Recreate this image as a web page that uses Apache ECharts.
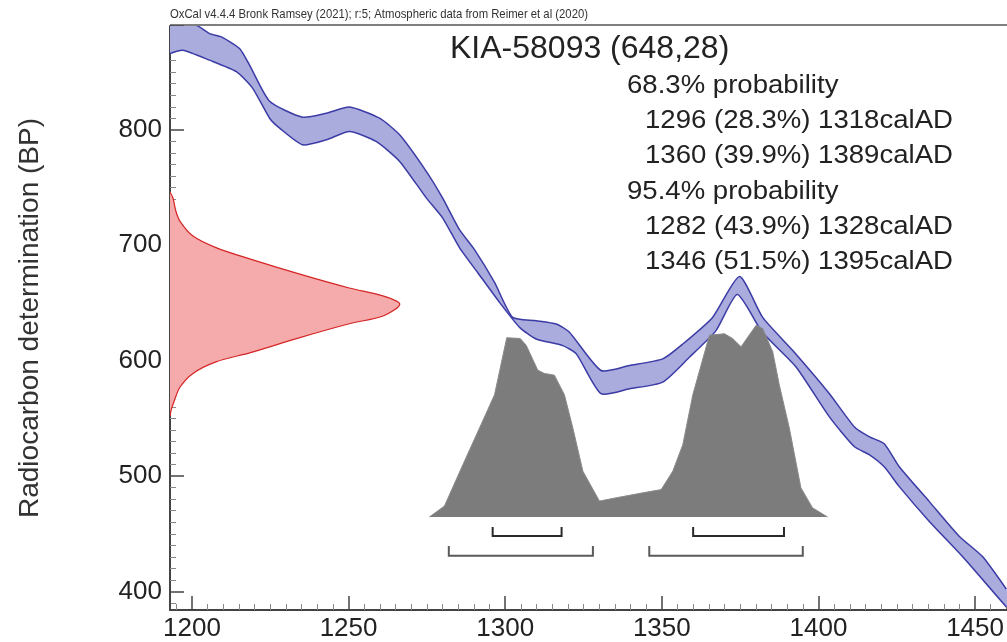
<!DOCTYPE html>
<html>
<head>
<meta charset="utf-8">
<script src="https://cdn.jsdelivr.net/npm/echarts@6/dist/echarts.min.js"></script>
<style>
html, body { margin: 0; padding: 0; background: #fff; }
#main { width: 1007px; height: 642px; }
</style>
</head>
<body>
<div id="main"></div>
<script>
var headerText = 'OxCal v4.4.4 Bronk Ramsey (2021); r:5; Atmospheric data from Reimer et al (2020)';
var sampleName = 'KIA-58093';
var sampleAge = 648;
var sampleErr = 28;

// calibration curve band (calAD, BP)
var curveUpperYears = [1193, 1201.4, 1205.6, 1209.4, 1215.2, 1218.4, 1224.8, 1235.3, 1242.9, 1250.3, 1259.9, 1266.3, 1274.8, 1280, 1285.4, 1290.2, 1296.6, 1302.4, 1309.9, 1316.3, 1320.5, 1330.6, 1339.7, 1350.3, 1356.7, 1366.2, 1374.8, 1382.2, 1391.8, 1403.5, 1411.5, 1416.3, 1421, 1425.8, 1435.4, 1445, 1452.3, 1460];
var curveUpperBP = [891, 890.6, 883.4, 880.6, 870.5, 856.1, 824.8, 811, 814.4, 819.8, 810.1, 795.7, 764.1, 741.1, 713.5, 696.2, 667.8, 637.5, 634.7, 631.8, 624.7, 591.5, 595.9, 601.6, 614.5, 637.5, 672.9, 637.5, 608.8, 571.4, 542.6, 534, 528, 508.1, 477.9, 447.7, 430.5, 402];
var curveLowerYears = [1193, 1197.1, 1205.6, 1214.2, 1219.4, 1224.8, 1228, 1235.3, 1242.9, 1250.3, 1258.8, 1266.3, 1274.8, 1280, 1285.4, 1291.2, 1298.2, 1304.6, 1309.9, 1318.4, 1322.7, 1330.6, 1339.7, 1350.3, 1358.8, 1367.3, 1374.1, 1382.1, 1392.9, 1403.5, 1411.5, 1416.3, 1421, 1425.8, 1435.4, 1445.9, 1460];
var curveLowerBP = [866.2, 869, 860.4, 850.4, 836, 810.1, 801.5, 787.1, 791.4, 798.6, 790, 772.7, 741.1, 723.8, 698, 676.4, 650.5, 628.9, 618.8, 613.1, 605.9, 571.4, 575.7, 581.5, 603, 626.1, 657.4, 624.6, 594.4, 551.3, 525.4, 518.5, 508.1, 490.9, 460.7, 430.5, 386.5];

// radiocarbon date distribution (BP, relative density)
var dateBP = [746, 741, 730, 721, 708, 698, 688, 675, 663, 656, 649, 639, 632, 620, 607, 599, 589, 577, 566, 558, 552];
var dateProb = [0, 0.013, 0.025, 0.043, 0.10, 0.20, 0.35, 0.565, 0.78, 0.93, 1.0, 0.93, 0.78, 0.565, 0.35, 0.20, 0.10, 0.043, 0.02, 0.006, 0];

// calibrated distribution (calAD, relative probability)
var postYears = [1275.8, 1280.6, 1286.5, 1291.8, 1296.6, 1300.5, 1304.8, 1306.7, 1310.4, 1312.5, 1315.7, 1318.9, 1321.6, 1324.8, 1330.1, 1335.4, 1343.9, 1349.8, 1353.5, 1356.7, 1359.9, 1365.2, 1370, 1372.6, 1375.3, 1380.1, 1382.2, 1385.4, 1387.5, 1390.7, 1394.4, 1398.1, 1402.9];
var postProb = [0, 0.057, 0.273, 0.464, 0.638, 0.935, 0.931, 0.896, 0.766, 0.749, 0.740, 0.638, 0.464, 0.239, 0.083, 0.100, 0.126, 0.143, 0.239, 0.377, 0.638, 0.948, 0.956, 0.931, 0.888, 1.0, 0.983, 0.862, 0.689, 0.464, 0.152, 0.048, 0];

// ranges
var range68Start = [1296, 1360];
var range68End = [1318, 1389];
var range68Pct = [28.3, 39.9];
var range95Start = [1282, 1346];
var range95End = [1328, 1395];
var range95Pct = [43.9, 51.5];

var FONT = 'Liberation Sans, Arial, sans-serif';

var chartDom = document.getElementById('main');
var myChart = echarts.init(chartDom);

function rangeLine(s, e, p) {
    return s + ' (' + p.toFixed(1) + '%) ' + e + 'calAD';
}

function bracketSeries(starts, ends, lineLevel, tickLevel, color) {
    return {
        type: 'custom',
        xAxisIndex: 0,
        yAxisIndex: 1,
        silent: true,
        data: starts.map(function (s, i) { return [s, ends[i]]; }),
        encode: { x: [0, 1] },
        renderItem: function (params, api) {
            var a = api.coord([api.value(0), tickLevel]);
            var b = api.coord([api.value(0), lineLevel]);
            var c = api.coord([api.value(1), lineLevel]);
            var d = api.coord([api.value(1), tickLevel]);
            return {
                type: 'polyline',
                shape: { points: [a, b, c, d] },
                style: { stroke: color, lineWidth: 2, fill: null }
            };
        }
    };
}

var textLines = [
    { t: '68.3% probability', x: 627, y: 86 },
    { t: rangeLine(range68Start[0], range68End[0], range68Pct[0]), x: 645, y: 121 },
    { t: rangeLine(range68Start[1], range68End[1], range68Pct[1]), x: 645, y: 156 },
    { t: '95.4% probability', x: 627, y: 192 },
    { t: rangeLine(range95Start[0], range95End[0], range95Pct[0]), x: 645, y: 227 },
    { t: rangeLine(range95Start[1], range95End[1], range95Pct[1]), x: 645, y: 262 }
];

var graphics = [
    {
        type: 'text', x: 170, y: 14, scaleX: 0.87,
        style: { text: headerText, font: '13px ' + FONT, fill: '#333', verticalAlign: 'middle' }
    },
    {
        type: 'line',
        shape: { x1: 170, y1: 25, x2: 1007, y2: 25 },
        style: { stroke: '#555', lineWidth: 1.5 }
    },
    {
        type: 'text', x: 450, y: 49,
        style: { text: sampleName + ' (' + sampleAge + ',' + sampleErr + ')', font: '32px ' + FONT, fill: '#222', verticalAlign: 'middle' }
    }
];
textLines.forEach(function (l) {
    graphics.push({
        type: 'text', x: l.x, y: l.y, scaleX: 1.06,
        style: { text: l.t, font: '26px ' + FONT, fill: '#222', verticalAlign: 'middle' }
    });
});

function plainNum(v) { return String(v); }

option = {
    animation: false,
    backgroundColor: '#fff',
    grid: { left: 170, right: 0, top: 26, bottom: 29 },
    xAxis: [{
        type: 'value',
        min: 1193,
        max: 1460,
        splitNumber: 5,
        axisLine: { onZero: false, lineStyle: { color: '#444', width: 2 } },
        axisTick: { inside: true, length: 14, lineStyle: { color: '#444', width: 1.5 } },
        minorTick: { show: true, splitNumber: 10, length: 6, lineStyle: { color: '#888', width: 1 } },
        axisLabel: { fontSize: 26, color: '#222', margin: 6, fontFamily: FONT, showMinLabel: false, showMaxLabel: false, formatter: plainNum },
        splitLine: { show: false }
    }, {
        type: 'value',
        min: 0,
        max: 3.64,
        show: false
    }],
    yAxis: [{
        type: 'value',
        min: 384,
        max: 890,
        splitNumber: 5,
        name: 'Radiocarbon determination (BP)',
        nameLocation: 'middle',
        nameGap: 126,
        nameTextStyle: { fontSize: 28, color: '#333', fontFamily: FONT },
        axisLine: { onZero: false, lineStyle: { color: '#444', width: 2 } },
        axisTick: { inside: true, length: 14, lineStyle: { color: '#444', width: 1.5 } },
        minorTick: { show: true, splitNumber: 10, length: 6, lineStyle: { color: '#888', width: 1 } },
        axisLabel: { fontSize: 26, color: '#222', margin: 8, fontFamily: FONT, showMinLabel: false, showMaxLabel: false, formatter: plainNum },
        splitLine: { show: false }
    }, {
        type: 'value',
        min: -0.485,
        max: 2.561,
        show: false
    }],
    graphic: graphics,
    series: [
        {
            // calibrated distribution
            type: 'line',
            xAxisIndex: 0,
            yAxisIndex: 1,
            silent: true,
            symbol: 'none',
            data: postYears.map(function (y, i) { return [y, postProb[i]]; }),
            lineStyle: { width: 1, color: '#8a8a8a' },
            areaStyle: { color: '#7c7c7c', opacity: 1 },
            itemStyle: { color: '#7c7c7c' }
        },
        {
            // calibration curve band
            type: 'custom',
            xAxisIndex: 0,
            yAxisIndex: 0,
            silent: true,
            clip: true,
            data: curveUpperYears.map(function (y, i) { return [y, curveUpperBP[i]]; }),
            renderItem: function (params, api) {
                if (params.dataIndex !== 0) return null;
                var up = curveUpperYears.map(function (y, i) { return api.coord([y, curveUpperBP[i]]); });
                var lo = curveLowerYears.map(function (y, i) { return api.coord([y, curveLowerBP[i]]); });
                return {
                    type: 'group',
                    children: [
                        { type: 'polygon', shape: { points: up.concat(lo.slice().reverse()), smooth: 0.2 }, style: { fill: '#a9acdc', stroke: null } },
                        { type: 'polyline', shape: { points: up, smooth: 0.2 }, style: { stroke: '#3b3ba6', lineWidth: 1.5, fill: null } },
                        { type: 'polyline', shape: { points: lo, smooth: 0.2 }, style: { stroke: '#3b3ba6', lineWidth: 1.5, fill: null } }
                    ]
                };
            }
        },
        {
            // radiocarbon measurement
            type: 'custom',
            xAxisIndex: 1,
            yAxisIndex: 0,
            silent: true,
            clip: true,
            data: dateBP.map(function (b, i) { return [dateProb[i], b]; }),
            renderItem: function (params, api) {
                if (params.dataIndex !== 0) return null;
                var pts = dateBP.map(function (b, i) { return api.coord([dateProb[i], b]); });
                return {
                    type: 'group',
                    children: [
                        { type: 'polygon', shape: { points: pts, smooth: 0.3 }, style: { fill: '#f5abab', stroke: null } },
                        { type: 'polyline', shape: { points: pts, smooth: 0.3 }, style: { stroke: '#d42424', lineWidth: 1.2, fill: null } }
                    ]
                };
            }
        },
        bracketSeries(range68Start, range68End, -0.099, -0.052, '#2a2a2a'),
        bracketSeries(range95Start, range95End, -0.202, -0.151, '#5a5a5a')
    ]
};

myChart.setOption(option);

window.addEventListener('resize', function () {
    myChart.resize();
});
</script>
</body>
</html>
